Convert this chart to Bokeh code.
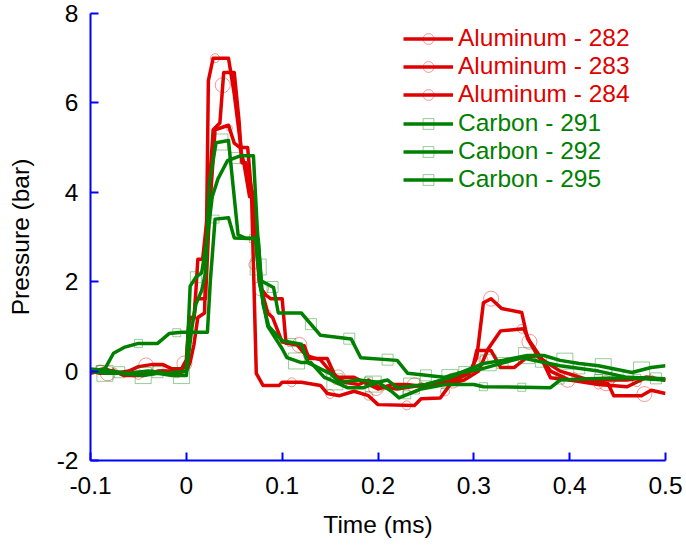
import numpy as np
from bokeh.plotting import figure
from bokeh.models import Range1d, FixedTicker, Legend, LegendItem, CustomJSTickFormatter
from bokeh.embed import file_html
from bokeh.resources import INLINE

# ---------------- data (time in ms, pressure in bar) ----------------
al_282 = [(-0.1, 0.0), (-0.09, -0.05), (-0.075, -0.05), (-0.06, 0.0), (-0.05, 0.1), (-0.035, 0.15),
          (-0.025, 0.15), (-0.015, 0.05), (-0.005, 0.05), (0.0, 0.25), (0.003, 1.2), (0.008, 1.2),
          (0.01, 1.8), (0.012, 2.5), (0.017, 2.5), (0.022, 3.5), (0.028, 5.4), (0.035, 5.55),
          (0.039, 6.68), (0.05, 6.68), (0.055, 5.6), (0.058, 4.66), (0.062, 4.66), (0.07, 3.9),
          (0.074, 2.6), (0.078, 1.85), (0.083, 1.7), (0.088, 1.62), (0.1, 1.62), (0.104, 0.62),
          (0.123, 0.57), (0.128, 0.28), (0.147, 0.28), (0.156, -0.14), (0.175, -0.14), (0.19, -0.3),
          (0.2, -0.4), (0.215, -0.3), (0.23, -0.3), (0.25, -0.35), (0.265, -0.3), (0.28, -0.2),
          (0.295, -0.05), (0.303, 0.3), (0.31, 1.53), (0.318, 1.62), (0.329, 1.4), (0.35, 1.31),
          (0.356, 0.73), (0.365, 0.4), (0.373, 0.17), (0.38, -0.15), (0.4, -0.2), (0.422, -0.2),
          (0.44, -0.28), (0.446, -0.55), (0.475, -0.55), (0.485, -0.43), (0.5, -0.5)]

al_283 = [(-0.1, 0.0), (-0.085, 0.05), (-0.07, -0.05), (-0.055, -0.1), (-0.04, -0.05), (-0.025, 0.0),
          (-0.01, -0.05), (0.0, 0.0), (0.004, 0.2), (0.008, 0.6), (0.012, 1.2), (0.019, 1.3),
          (0.021, 3.0), (0.023, 6.5), (0.028, 7.0), (0.044, 7.0), (0.05, 6.2), (0.057, 5.0),
          (0.064, 5.0), (0.068, 4.0), (0.073, -0.05), (0.08, -0.32), (0.097, -0.32), (0.1, -0.25),
          (0.12, -0.25), (0.14, -0.32), (0.147, -0.5), (0.16, -0.55), (0.175, -0.45), (0.19, -0.55),
          (0.2, -0.75), (0.238, -0.77), (0.245, -0.62), (0.265, -0.6), (0.276, -0.28), (0.29, -0.2),
          (0.305, 0.0), (0.315, 0.5), (0.328, 0.9), (0.352, 0.95), (0.358, 0.68), (0.37, 0.3),
          (0.38, 0.0), (0.4, -0.2), (0.43, -0.3), (0.46, -0.35), (0.48, -0.14), (0.5, -0.2)]

al_284 = [(-0.1, -0.05), (-0.09, 0.0), (-0.075, 0.0), (-0.065, -0.1), (-0.045, -0.1), (-0.03, 0.0),
          (-0.015, 0.0), (-0.005, 0.05), (0.0, 0.1), (0.003, 1.17), (0.008, 1.17), (0.01, 1.62),
          (0.02, 1.62), (0.024, 3.5), (0.03, 5.4), (0.044, 5.5), (0.05, 5.1), (0.056, 5.0),
          (0.06, 4.66), (0.066, 3.9), (0.07, 3.9), (0.076, 2.0), (0.085, 1.3), (0.09, 1.2),
          (0.1, 0.65), (0.115, 0.6), (0.125, 0.35), (0.14, 0.25), (0.15, 0.0), (0.165, -0.25),
          (0.18, -0.3), (0.19, -0.2), (0.2, -0.35), (0.22, -0.4), (0.25, -0.3), (0.28, -0.15),
          (0.298, 0.0), (0.303, 0.46), (0.318, 0.46), (0.328, 0.08), (0.342, 0.08), (0.355, 0.3),
          (0.365, 0.35), (0.39, 0.0), (0.42, -0.2), (0.46, -0.2), (0.48, -0.14), (0.5, -0.2)]

cf_291 = [(-0.1, 0.0), (-0.085, -0.05), (-0.07, -0.05), (-0.045, -0.1), (-0.03, -0.05), (-0.015, -0.1),
          (0.0, -0.1), (0.002, 0.3), (0.006, 1.0), (0.01, 1.5), (0.016, 1.8), (0.02, 2.2),
          (0.024, 4.2), (0.031, 5.11), (0.044, 5.16), (0.049, 4.1), (0.054, 3.05), (0.062, 2.97),
          (0.072, 2.97), (0.077, 1.9), (0.085, 1.0), (0.1, 0.5), (0.105, 0.3), (0.12, 0.19),
          (0.13, 0.19), (0.144, -0.14), (0.151, -0.2), (0.168, -0.37), (0.185, -0.37), (0.2, -0.25),
          (0.21, -0.2), (0.22, -0.37), (0.25, -0.3), (0.276, -0.14), (0.29, 0.0), (0.31, 0.17),
          (0.33, 0.24), (0.356, 0.35), (0.373, 0.35), (0.39, 0.24), (0.41, 0.17), (0.43, 0.12),
          (0.465, -0.03), (0.485, 0.08), (0.5, 0.12)]

cf_292 = [(-0.1, 0.05), (-0.08, 0.0), (-0.06, -0.05), (-0.04, 0.0), (-0.02, -0.05), (0.0, 0.0),
          (0.004, 1.9), (0.01, 2.1), (0.016, 2.2), (0.022, 3.0), (0.027, 3.9), (0.033, 4.3),
          (0.043, 4.71), (0.057, 4.82), (0.07, 4.82), (0.074, 3.2), (0.078, 2.02), (0.091, 1.87),
          (0.096, 1.3), (0.12, 1.3), (0.14, 0.8), (0.172, 0.72), (0.182, 0.3), (0.22, 0.24),
          (0.231, -0.05), (0.269, -0.14), (0.283, -0.05), (0.31, 0.06), (0.35, 0.3), (0.39, 0.12),
          (0.43, 0.0), (0.46, -0.14), (0.5, -0.17)]

cf_295 = [(-0.1, 0.0), (-0.085, 0.05), (-0.076, 0.4), (-0.065, 0.53), (-0.05, 0.62), (-0.03, 0.62),
          (-0.018, 0.84), (-0.005, 0.87), (0.022, 0.87), (0.025, 2.0), (0.03, 3.4), (0.044, 3.43),
          (0.05, 2.98), (0.075, 2.96), (0.08, 1.5), (0.086, 1.0), (0.1, 0.68), (0.12, 0.6),
          (0.127, 0.19), (0.14, 0.05), (0.15, -0.05), (0.16, -0.25), (0.18, -0.2), (0.2, -0.25),
          (0.214, -0.45), (0.222, -0.6), (0.245, -0.4), (0.27, -0.3), (0.3, -0.3), (0.31, -0.35),
          (0.38, -0.37), (0.39, -0.2), (0.42, -0.17), (0.46, -0.15), (0.5, -0.2)]

labels = ["Aluminum - 282", "Aluminum - 283", "Aluminum - 284",
          "Carbon - 291", "Carbon - 292", "Carbon - 295"]
series = [al_282, al_283, al_284, cf_291, cf_292, cf_295]
markers = ["circle", "circle", "circle", "square", "square", "square"]
marker_sizes = [15, 9, 6, 16, 11, 8]
marker_first = [-0.082, -0.09, -0.075, -0.085, -0.07, -0.09]   # first marked sample (ms)
marker_step = 0.04
x_ticks = [-0.1, 0, 0.1, 0.2, 0.3, 0.4, 0.5]
y_ticks = [-2, 0, 2, 4, 6, 8]

RED = "#E00000"
GREEN = "#008000"
colors = [RED, RED, RED, GREEN, GREEN, GREEN]
FONT = "Liberation Sans"
FS = "24.5px"

p = figure(width=684, height=543, output_backend="svg", toolbar_location=None,
           x_range=Range1d(-0.1, 0.5), y_range=Range1d(-2, 8),
           min_border_left=90, min_border_right=19, min_border_top=13, min_border_bottom=83)
p.outline_line_color = None
p.xgrid.visible = False
p.ygrid.visible = False
p.background_fill_color = "white"

renderers = []
for data, col, mk, ms, m0 in zip(series, colors, markers, marker_sizes, marker_first):
    t = np.array([d[0] for d in data])
    v = np.array([d[1] for d in data])
    lr = p.line(t, v, line_color=col, line_width=3.5, line_join="round")
    mt = np.arange(m0, 0.5 + 1e-9, marker_step)
    mv = np.interp(mt, t, v)
    sr = p.scatter(mt, mv, marker=mk, size=ms, fill_color=None, line_color=col,
                   line_alpha=0.4, line_width=1)
    renderers.append((lr, sr))

for ax in (p.xaxis[0], p.yaxis[0]):
    ax.axis_line_color = "blue"
    ax.axis_line_width = 2
    ax.major_tick_line_color = "blue"
    ax.major_tick_line_width = 2
    ax.major_tick_in = 8
    ax.major_tick_out = 0
    ax.minor_tick_line_color = None
    ax.major_label_text_font = FONT
    ax.major_label_text_font_size = FS
    ax.major_label_text_color = "black"
    ax.axis_label_text_font = FONT
    ax.axis_label_text_font_size = FS
    ax.axis_label_text_font_style = "normal"
    ax.axis_label_text_color = "black"

p.xaxis.ticker = FixedTicker(ticks=x_ticks)
p.yaxis.ticker = FixedTicker(ticks=y_ticks)
p.xaxis.formatter = CustomJSTickFormatter(code="return (Math.round(tick*10)/10).toString();")
p.yaxis.formatter = CustomJSTickFormatter(code="return Math.round(tick).toString();")
p.xaxis.axis_label = "Time (ms)"
p.yaxis.axis_label = "Pressure (bar)"
p.xaxis.major_label_standoff = 16
p.xaxis.axis_label_standoff = 14
p.yaxis.major_label_standoff = 12
p.yaxis.axis_label_standoff = 20

def make_legend(idx, color, loc):
    items = [LegendItem(label=labels[i], renderers=list(renderers[i])) for i in idx]
    lg = Legend(items=items, location=loc, label_text_color=color,
                label_text_font=FONT, label_text_font_size=FS,
                glyph_width=50, glyph_height=27, label_height=27, label_standoff=5,
                spacing=0, padding=0, margin=0, border_line_color=None,
                background_fill_alpha=0)
    return lg

p.add_layout(make_legend([0, 1, 2], RED, (313, 352)))
p.add_layout(make_legend([3, 4, 5], GREEN, (313, 267)))

open("out.html", "w").write(file_html(p, INLINE))
